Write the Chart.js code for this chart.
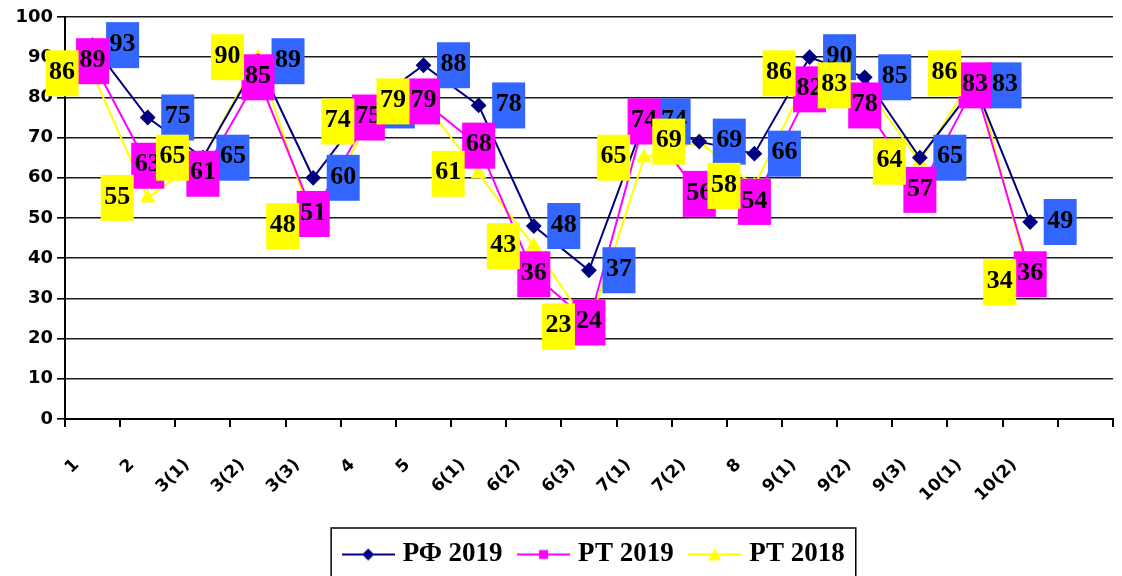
<!DOCTYPE html>
<html>
<head>
<meta charset="utf-8">
<script src="https://cdn.jsdelivr.net/npm/chart.js@4.4.1/dist/chart.umd.min.js"></script>
<style>
  html, body { margin: 0; padding: 0; background: #fff; overflow: hidden; }
  #wrap { position: relative; width: 1128px; height: 576px; }
</style>
</head>
<body>
<div id="wrap"><canvas id="chart"></canvas></div>
<script>
// categories along the x axis (last slot is empty, as in the source chart)
const categories = ['1', '2', '3(1)', '3(2)', '3(3)', '4', '5', '6(1)', '6(2)', '6(3)',
  '7(1)', '7(2)', '8', '9(1)', '9(2)', '9(3)', '10(1)', '10(2)', ''];

const rf2019 = [93, 75, 65, 89, 60, 78, 88, 78, 48, 37, 74, 69, 66, 90, 85, 65, 83, 49];
const rt2019 = [89, 63, 61, 85, 51, 75, 79, 68, 36, 24, 74, 56, 54, 82, 78, 57, 83, 36];
const rt2018 = [86, 55, 65, 90, 48, 74, 79, 61, 43, 23, 65, 69, 58, 86, 83, 64, 86, 34];

const seriesNames = ['РФ 2019', 'РТ 2019', 'РТ 2018'];
const yTicks = [0, 10, 20, 30, 40, 50, 60, 70, 80, 90, 100];

const axisFont = '"DejaVu Sans", Verdana, sans-serif';
const labelFont = '"Liberation Serif", "Times New Roman", serif';

// line + marker picture used as the legend symbol
function legendSymbol(color, style) {
  const c = document.createElement('canvas');
  c.width = 53; c.height = 16;
  const g = c.getContext('2d');
  g.strokeStyle = color; g.lineWidth = 2;
  g.beginPath(); g.moveTo(0, 8); g.lineTo(53, 8); g.stroke();
  g.fillStyle = color;
  g.beginPath();
  if (style === 'rectRot') {
    g.moveTo(26.5, 2); g.lineTo(32.5, 8); g.lineTo(26.5, 14); g.lineTo(20.5, 8);
  } else if (style === 'rect') {
    g.rect(22, 3.5, 9, 9);
  } else {
    g.moveTo(26.5, 2); g.lineTo(33, 14); g.lineTo(20, 14);
  }
  g.closePath(); g.fill();
  return c;
}

// coloured value boxes next to each point
const boxLabels = {
  id: 'boxLabels',
  afterDatasetsDraw(chart) {
    const ctx = chart.ctx;
    ctx.save();
    ctx.font = 'bold 26px ' + labelFont;
    ctx.textAlign = 'center';
    ctx.textBaseline = 'middle';
    chart.data.datasets.forEach((ds, i) => {
      chart.getDatasetMeta(i).data.forEach((pt, j) => {
        const x = pt.x + ds.labelShift;
        const y = pt.y;
        ctx.fillStyle = ds.labelBox;
        ctx.fillRect(x - 16.5, y - 23, 33, 46);
        ctx.fillStyle = '#000';
        ctx.fillText(String(ds.data[j]), x, y - 1);
      });
    });
    ctx.restore();
  }
};

// legend sits a little right of centre in the original; frame drawn round it
const legendFrame = {
  id: 'legendFrame',
  afterLayout(chart) {
    if (!chart.legend) return;
    chart.legend.left += 7;
    chart.legend.right += 7;
    chart.legend.top += 2;
    chart.legend.bottom += 2;
  },
  afterDraw(chart) {
    const hb = chart.legend && chart.legend.legendHitBoxes;
    if (!hb || !hb.length) return;
    const last = hb[hb.length - 1];
    const left = hb[0].left - 16;
    const right = last.left + last.width + 11;
    const top = hb[0].top - 13;
    const ctx = chart.ctx;
    ctx.save();
    ctx.strokeStyle = '#000';
    ctx.lineWidth = 1.5;
    ctx.strokeRect(left, top, right - left, chart.height - top + 10);
    ctx.restore();
  }
};

const symbols = [
  legendSymbol('#000080', 'rectRot'),
  legendSymbol('#FF00FF', 'rect'),
  legendSymbol('#FFFF00', 'triangle')
];

new Chart(document.getElementById('chart'), {
  type: 'line',
  data: {
    labels: categories,
    datasets: [
      {
        label: seriesNames[0], data: rf2019,
        borderColor: '#000080', backgroundColor: '#000080', borderWidth: 2,
        pointStyle: 'rectRot', pointRadius: 6.5,
        labelBox: '#3366FF', labelShift: 30
      },
      {
        label: seriesNames[1], data: rt2019,
        borderColor: '#FF00FF', backgroundColor: '#FF00FF', borderWidth: 2,
        pointStyle: 'rect', pointRadius: 6,
        labelBox: '#FF00FF', labelShift: 0
      },
      {
        label: seriesNames[2], data: rt2018,
        borderColor: '#FFFF00', backgroundColor: '#FFFF00', borderWidth: 2,
        pointStyle: 'triangle', pointRadius: 7,
        labelBox: '#FFFF00', labelShift: -30.5
      }
    ]
  },
  options: {
    responsive: true,
    maintainAspectRatio: false,
    animation: false,
    layout: { padding: { top: 17, left: 0, right: 0, bottom: 0 } },
    elements: { line: { tension: 0 } },
    scales: {
      x: {
        offset: true,
        grid: { offset: true, drawOnChartArea: false, drawTicks: true, tickLength: 8, color: '#000', lineWidth: 2 },
        border: { display: true, color: '#000', width: 2 },
        ticks: {
          autoSkip: false, minRotation: 45, maxRotation: 45,
          labelOffset: -16, padding: 28,
          color: '#000',
          font: { family: axisFont, size: 17, weight: 'bold' }
        },
        afterFit: s => { s.height = 100; }
      },
      y: {
        min: 0, max: 100,
        afterBuildTicks: s => { s.ticks = yTicks.map(v => ({ value: v })); },
        grid: { color: '#1a1a1a', lineWidth: 1.6, tickLength: 8, tickColor: '#000' },
        border: { display: true, color: '#000', width: 2 },
        ticks: {
          padding: 4, color: '#000',
          font: { family: axisFont, size: 18, weight: 'bold' }
        },
        afterFit: s => { s.width = 65; }
      }
    },
    plugins: {
      tooltip: { enabled: false },
      legend: {
        position: 'bottom',
        fullSize: false,
        labels: {
          usePointStyle: true,
          pointStyleWidth: 42,
          padding: 20,
          color: '#000',
          font: { family: labelFont, size: 27, weight: 'bold' },
          generateLabels: chart => chart.data.datasets.map((ds, i) => ({
            text: ds.label, pointStyle: symbols[i], datasetIndex: i,
            fontColor: '#000', lineWidth: 0, strokeStyle: 'rgba(0,0,0,0)', fillStyle: 'rgba(0,0,0,0)'
          }))
        }
      }
    }
  },
  plugins: [boxLabels, legendFrame]
});
</script>
</body>
</html>
